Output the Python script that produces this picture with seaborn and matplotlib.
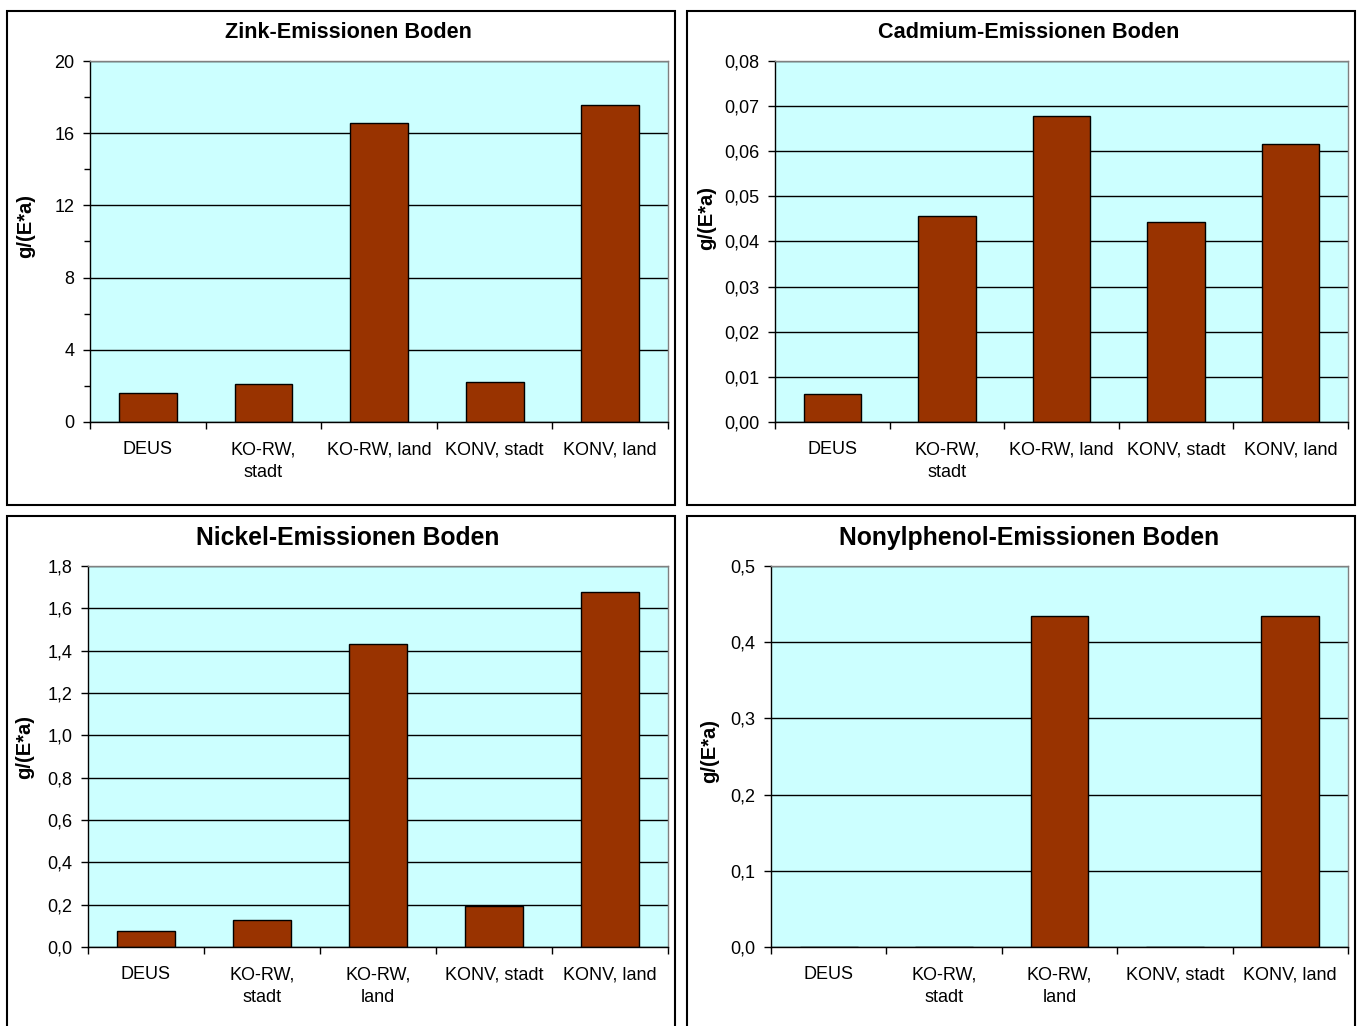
import matplotlib
matplotlib.use("Agg")
import matplotlib.pyplot as plt
import seaborn as sns
import numpy as np
from matplotlib.patches import Rectangle
from matplotlib.ticker import FuncFormatter, MultipleLocator

sns.set_theme(style="white")
plt.rcParams['font.family'] = ['Liberation Sans', 'DejaVu Sans']

# Scenario labels (line breaks as shown under each panel)
categories_top = ["DEUS", "KO-RW,\nstadt", "KO-RW, land", "KONV, stadt", "KONV, land"]
categories_bottom = ["DEUS", "KO-RW,\nstadt", "KO-RW,\nland", "KONV, stadt", "KONV, land"]

# Soil emissions in g/(E*a)
zink = [1.6, 2.1, 16.55, 2.2, 17.55]
cadmium = [0.0062, 0.0457, 0.0678, 0.0443, 0.0616]
nickel = [0.076, 0.128, 1.43, 0.194, 1.675]
nonylphenol = [0.0, 0.0, 0.435, 0.0, 0.435]

titles = ["Zink-Emissionen Boden", "Cadmium-Emissionen Boden",
          "Nickel-Emissionen Boden", "Nonylphenol-Emissionen Boden"]
ylabel = "g/(E*a)"

BAR = "#993300"
BG = "#CCFFFF"
W, H = 1362, 1026

fig = plt.figure(figsize=(W / 100, H / 100), dpi=100)
fig.patch.set_facecolor("white")


def fx(px):
    return px / W


def fy(py):
    return 1 - py / H


def axes_box(x0, y0, x1, y1):
    return [fx(x0), fy(y1), fx(x1) - fx(x0), fy(y0) - fy(y1)]


panels = [
    dict(vals=zink, cats=categories_top, title=titles[0], box=(90, 61, 668, 422),
         ymax=20, step=4, minor=2, dec=0, frame=(7, 11, 675, 505),
         tcenter=(348, 33), tsize=15.6, lab=(-0.112, 0.543)),
    dict(vals=cadmium, cats=categories_top, title=titles[1], box=(775, 61, 1348, 422),
         ymax=0.08, step=0.01, minor=None, dec=2, frame=(687, 11, 1355, 505),
         tcenter=(1029, 33), tsize=15.6, lab=(-0.120, 0.565)),
    dict(vals=nickel, cats=categories_bottom, title=titles[2], box=(88, 566, 668, 947),
         ymax=1.8, step=0.2, minor=None, dec=1, frame=(7, 516, 675, 1040),
         tcenter=(348, 538), tsize=17.8, lab=(-0.109, 0.525)),
    dict(vals=nonylphenol, cats=categories_bottom, title=titles[3], box=(771, 566, 1348, 947),
         ymax=0.5, step=0.1, minor=None, dec=1, frame=(687, 516, 1355, 1040),
         tcenter=(1029, 538), tsize=17.8, lab=(-0.107, 0.514)),
]

for p in panels:
    # chart frame around each panel
    x0, y0, x1, y1 = p["frame"]
    fig.add_artist(Rectangle((fx(x0), fy(y1)), fx(x1) - fx(x0), fy(y0) - fy(y1),
                             transform=fig.transFigure, fill=False,
                             edgecolor="black", linewidth=1.5, zorder=0))

    ax = fig.add_axes(axes_box(*p["box"]))
    ax.set_facecolor(BG)
    sns.barplot(x=p["cats"], y=p["vals"], order=p["cats"], ax=ax, color=BAR,
                saturation=1, width=0.5, edgecolor="black", linewidth=1)

    ax.set_xlim(-0.5, len(p["cats"]) - 0.5)
    ax.set_ylim(0, p["ymax"])
    ax.yaxis.set_major_locator(MultipleLocator(p["step"]))
    dec = p["dec"]
    ax.yaxis.set_major_formatter(FuncFormatter(
        lambda v, pos, d=dec: f"{v:.{d}f}".replace(".", ",")))
    if p["minor"]:
        ax.yaxis.set_minor_locator(MultipleLocator(p["minor"]))
        ax.tick_params(axis="y", which="minor", left=True, length=4, width=1,
                       color="black", direction="out")

    ax.set_axisbelow(True)
    ax.yaxis.grid(True, color="black", linewidth=1)
    ax.xaxis.grid(False)

    ax.set_xticks(np.arange(-0.5, len(p["cats"])), minor=True)
    ax.tick_params(axis="x", which="major", length=0, pad=14, labelsize=13,
                   labelcolor="black")
    ax.tick_params(axis="x", which="minor", bottom=True, length=5, width=1,
                   color="black", direction="out")
    ax.tick_params(axis="y", which="major", left=True, length=5, width=1,
                   color="black", direction="out", pad=6, labelsize=13,
                   labelcolor="black")
    for lbl in ax.get_xticklabels():
        lbl.set_linespacing(1.45)

    for side in ("left", "bottom"):
        ax.spines[side].set_color("black")
        ax.spines[side].set_linewidth(1)
    for side in ("top", "right"):
        ax.spines[side].set_color("#808080")
        ax.spines[side].set_linewidth(1)

    ax.set_xlabel("")
    ax.set_ylabel(ylabel, fontsize=14.5, fontweight="bold", color="black")
    ax.yaxis.label.set_va("center")
    ax.yaxis.set_label_coords(*p["lab"])

    tx, ty = p["tcenter"]
    fig.text(fx(tx), fy(ty), p["title"], ha="center", va="center",
             fontsize=p["tsize"], fontweight="bold", color="black")

fig.savefig("out.png", dpi=100, facecolor="white")
